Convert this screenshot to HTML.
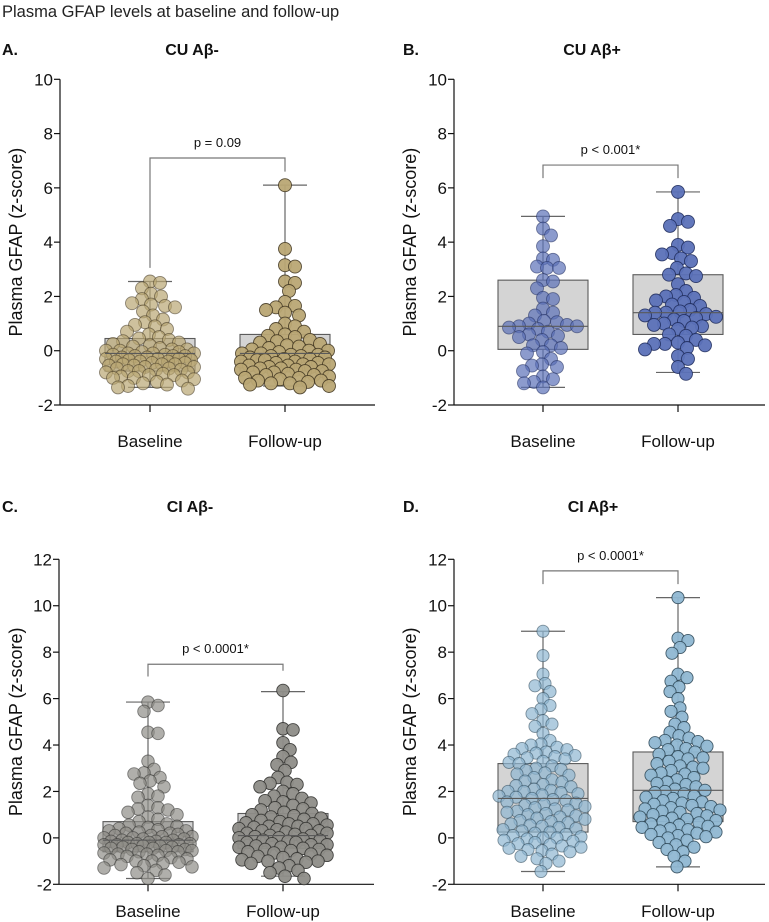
<!DOCTYPE html>
<html><head><meta charset="utf-8">
<style>
html,body{margin:0;padding:0;background:#fff;}
svg{display:block;font-family:"Liberation Sans",Arial,sans-serif;}
</style></head>
<body>
<svg id="chart" width="769" height="922" viewBox="0 0 769 922" xmlns="http://www.w3.org/2000/svg">
<text x="2" y="17" font-size="16.5" fill="#222">Plasma GFAP levels at baseline and follow-up</text>
</svg>
<script>
const categories = ["Baseline", "Follow-up"];
const panelTitles = ["CU Aβ-", "CU Aβ+", "CI Aβ-", "CI Aβ+"];
const panelLetters = ["A.", "B.", "C.", "D."];
const pLabels = ["p = 0.09", "p < 0.001*", "p < 0.0001*", "p < 0.0001*"];
const ticksTop = [-2, 0, 2, 4, 6, 8, 10];
const ticksBottom = [-2, 0, 2, 4, 6, 8, 10, 12];
// box stats: [whiskerLow, q1, median, q3, whiskerHigh]
const boxA = [[-1.35, -0.75, -0.1, 0.45, 2.55], [-1.3, -0.75, -0.1, 0.6, 6.1]];
const boxB = [[-1.35, 0.05, 0.9, 2.6, 4.95], [-0.8, 0.6, 1.4, 2.8, 5.85]];
const boxC = [[-1.75, -0.6, -0.1, 0.7, 5.85], [-1.65, -0.45, 0.1, 1.05, 6.3]];
const boxD = [[-1.45, 0.25, 1.7, 3.2, 8.9], [-1.25, 0.7, 2.05, 3.7, 10.35]];
// bracket: [barValue, leftLegEnd, rightLegEnd]
const bracketA = [7.1, 3.05, 6.6];
const bracketB = [6.84, 6.36, 6.36];
const bracketC = [7.48, 6.95, 7.2];
const bracketD = [11.5, 10.93, 10.93];
const valsABase = [2.55,2.5,2.3,2.1,2.0,1.9,1.75,1.7,1.65,1.6,1.45,1.3,1.15,1.05,0.95,0.9,0.8,0.7,0.6,0.5,0.45,0.4,0.35,0.3,0.25,0.2,0.15,0.1,0.05,0.05,0.0,0.0,-0.05,-0.05,-0.1,-0.1,-0.1,-0.15,-0.15,-0.2,-0.2,-0.2,-0.25,-0.25,-0.3,-0.3,-0.3,-0.35,-0.35,-0.4,-0.4,-0.4,-0.45,-0.45,-0.5,-0.5,-0.5,-0.55,-0.55,-0.6,-0.6,-0.65,-0.65,-0.7,-0.7,-0.75,-0.75,-0.8,-0.8,-0.85,-0.9,-0.9,-0.95,-1.0,-1.0,-1.05,-1.1,-1.15,-1.2,-1.25,-1.3,-1.35,-1.4];
const valsAFol = [6.1,3.75,3.15,3.1,2.55,2.5,2.2,1.8,1.65,1.6,1.5,1.4,1.3,1.0,0.9,0.8,0.7,0.6,0.55,0.5,0.4,0.35,0.3,0.25,0.2,0.15,0.1,0.05,0.0,0.0,-0.05,-0.1,-0.1,-0.15,-0.15,-0.2,-0.2,-0.25,-0.25,-0.3,-0.3,-0.35,-0.35,-0.4,-0.4,-0.45,-0.45,-0.5,-0.5,-0.55,-0.55,-0.6,-0.6,-0.65,-0.65,-0.7,-0.7,-0.75,-0.75,-0.8,-0.8,-0.85,-0.9,-0.9,-0.95,-1.0,-1.0,-1.05,-1.1,-1.1,-1.15,-1.2,-1.2,-1.25,-1.3,-1.35];
const valsBBase = [4.95,4.5,4.25,3.85,3.4,3.35,3.1,3.05,3.05,2.6,2.55,2.3,1.95,1.9,1.55,1.4,1.3,1.1,1.05,1.0,0.95,0.9,0.9,0.85,0.8,0.7,0.6,0.55,0.5,0.4,0.2,0.2,0.1,-0.05,-0.1,-0.3,-0.5,-0.55,-0.6,-0.75,-0.95,-1.05,-1.15,-1.2,-1.35];
const valsBFol = [5.85,4.85,4.75,4.6,3.9,3.8,3.6,3.55,3.4,3.3,3.05,2.85,2.8,2.75,2.45,2.2,2.05,2.0,1.95,1.85,1.8,1.7,1.65,1.5,1.45,1.4,1.4,1.35,1.3,1.25,1.2,1.15,1.1,1.0,0.95,0.9,0.85,0.8,0.6,0.55,0.4,0.3,0.25,0.25,0.2,0.1,0.05,-0.2,-0.3,-0.6,-0.85];
const valsCBase = [5.85,5.7,5.45,4.55,4.5,3.3,2.95,2.8,2.75,2.6,2.45,2.35,2.2,1.9,1.8,1.75,1.4,1.3,1.25,1.2,1.1,1.0,0.9,0.8,0.7,0.6,0.55,0.5,0.45,0.4,0.35,0.3,0.3,0.25,0.2,0.2,0.15,0.1,0.1,0.05,0.05,0.0,0.0,-0.05,-0.05,-0.1,-0.1,-0.15,-0.15,-0.2,-0.2,-0.2,-0.25,-0.25,-0.3,-0.3,-0.3,-0.35,-0.35,-0.4,-0.4,-0.45,-0.45,-0.5,-0.5,-0.55,-0.55,-0.6,-0.6,-0.65,-0.7,-0.7,-0.75,-0.8,-0.85,-0.9,-0.95,-1.0,-1.0,-1.05,-1.1,-1.15,-1.2,-1.25,-1.3,-1.4,-1.5,-1.6,-1.75];
const valsCFol = [6.35,4.7,4.65,4.1,3.8,3.5,3.25,3.15,2.9,2.6,2.4,2.35,2.3,2.2,2.0,1.9,1.8,1.7,1.6,1.55,1.5,1.4,1.3,1.25,1.2,1.1,1.05,1.0,0.95,0.9,0.85,0.8,0.75,0.7,0.65,0.6,0.6,0.55,0.5,0.5,0.45,0.4,0.4,0.35,0.3,0.3,0.25,0.2,0.2,0.15,0.1,0.1,0.05,0.0,0.0,-0.05,-0.1,-0.1,-0.15,-0.2,-0.2,-0.25,-0.3,-0.3,-0.35,-0.4,-0.4,-0.45,-0.5,-0.5,-0.55,-0.6,-0.65,-0.7,-0.75,-0.8,-0.85,-0.9,-0.95,-1.0,-1.0,-1.05,-1.1,-1.2,-1.3,-1.4,-1.5,-1.65,-1.75];
const valsDBase = [8.9,7.85,7.05,6.65,6.55,6.3,6.0,5.7,5.55,5.35,5.05,4.9,4.8,4.5,4.2,4.05,4.0,3.9,3.85,3.8,3.7,3.65,3.6,3.55,3.5,3.45,3.4,3.3,3.25,3.2,3.1,3.0,2.95,2.9,2.8,2.75,2.7,2.6,2.5,2.45,2.4,2.3,2.25,2.2,2.1,2.05,2.0,2.0,1.95,1.9,1.85,1.8,1.75,1.7,1.65,1.6,1.55,1.5,1.45,1.4,1.35,1.3,1.25,1.2,1.15,1.1,1.05,1.0,0.95,0.9,0.85,0.8,0.75,0.7,0.65,0.6,0.55,0.5,0.45,0.4,0.35,0.3,0.25,0.2,0.15,0.1,0.05,0.0,0.0,-0.05,-0.1,-0.15,-0.2,-0.25,-0.3,-0.35,-0.4,-0.45,-0.5,-0.55,-0.6,-0.7,-0.8,-0.9,-1.0,-1.1,-1.45];
const valsDFol = [10.35,8.6,8.5,8.2,7.95,7.05,6.9,6.75,6.5,6.3,6.0,5.6,5.45,5.2,4.9,4.75,4.55,4.4,4.3,4.2,4.15,4.1,4.0,3.95,3.85,3.8,3.7,3.6,3.5,3.45,3.4,3.3,3.2,3.1,3.05,3.0,2.9,2.8,2.75,2.7,2.6,2.5,2.4,2.35,2.3,2.2,2.1,2.05,2.0,1.95,1.9,1.8,1.75,1.7,1.6,1.55,1.5,1.45,1.4,1.35,1.3,1.25,1.2,1.15,1.1,1.05,1.0,0.95,0.9,0.85,0.8,0.75,0.7,0.65,0.6,0.55,0.5,0.45,0.4,0.35,0.3,0.25,0.2,0.15,0.1,0.05,0.0,-0.1,-0.2,-0.3,-0.4,-0.5,-0.6,-0.8,-1.0,-1.25];

const NS = "http://www.w3.org/2000/svg";
const svg = document.getElementById("chart");
function mk(tag, attrs, parent) {
  const e = document.createElementNS(NS, tag);
  for (const k in attrs) e.setAttribute(k, attrs[k]);
  (parent || svg).appendChild(e);
  return e;
}

const panels = [
  {ax:60, right:375, top:79.3, bot:405, ymax:10, ticks:ticksTop, xs:[150,285], box:boxA, br:bracketA, vals:[valsABase,valsAFol], fill:"#b9a674", stroke:"#3f3520", titleX:192, titleY:55, letterX:2, ytX:22, xlabY:447, r:6.5, key:"a"},
  {ax:454, right:765, top:79.3, bot:405, ymax:10, ticks:ticksTop, xs:[543,678], box:boxB, br:bracketB, vals:[valsBBase,valsBFol], fill:"#5b71b8", stroke:"#1f2c5c", titleX:592, titleY:55, letterX:403, ytX:416, xlabY:447, r:6.5, key:"b"},
  {ax:59, right:374, top:559.3, bot:884.3, ymax:12, ticks:ticksBottom, xs:[148,283], box:boxC, br:bracketC, vals:[valsCBase,valsCFol], fill:"#8e8d88", stroke:"#2e2e2c", titleX:190, titleY:512, letterX:2, ytX:22, xlabY:917, r:6.3, key:"c"},
  {ax:454, right:765, top:559.3, bot:884.3, ymax:12, ticks:ticksBottom, xs:[543,678], box:boxD, br:bracketD, vals:[valsDBase,valsDFol], fill:"#8fb7d2", stroke:"#2a4454", titleX:593, titleY:512, letterX:403, ytX:416, xlabY:917, r:6.1, key:"d"}
];

function swarm(vals, cx, yfn, r, maxW) {
  const placed = [];
  const md = r * 1.55;
  const out = [];
  vals.forEach(v => {
    const y = yfn(v);
    let chosen = null, bestDx = 0, bestMin = -1;
    for (let s = 0; s <= maxW && chosen === null; s += 1) {
      const cands = s === 0 ? [0] : [s, -s];
      for (const dx of cands) {
        let mind = Infinity;
        for (const p of placed) {
          const d = Math.hypot(p[0] - (cx + dx), p[1] - y);
          if (d < mind) mind = d;
        }
        if (mind >= md) { chosen = dx; break; }
        if (mind > bestMin) { bestMin = mind; bestDx = dx; }
      }
    }
    const dx = chosen === null ? bestDx : chosen;
    placed.push([cx + dx, y]);
    out.push([cx + dx, y]);
  });
  return out;
}

panels.forEach((P, pi) => {
  const g = mk("g", {});
  
  
  const yS = v => P.bot - (v + 2) / (P.ymax + 2) * (P.bot - P.top);

  const lt = mk("text", {x:P.letterX, y:P.titleY, "font-size":16, "font-weight":"bold", fill:"#111"}, g);
  lt.textContent = panelLetters[pi];
  
  
  const tt = mk("text", {x:P.titleX, y:P.titleY, "font-size":16, "font-weight":"bold", fill:"#111", "text-anchor":"middle"}, g);
  tt.textContent = panelTitles[pi];
  
  

  const yaxis = mk("line", {x1:P.ax, x2:P.ax, y1:P.top, y2:P.bot, stroke:"#111", "stroke-width":1.2}, g);
  
  
  P.ticks.forEach(t => {
    const y = yS(t);
    const tk = mk("line", {x1:P.ax-6, x2:P.ax, y1:y, y2:y, stroke:"#111", "stroke-width":1.2}, g);
    
    
    const tl = mk("text", {x:P.ax-7, y:y+6, "font-size":17, fill:"#111", "text-anchor":"end"}, g);
    tl.textContent = t;
    
    
  });
  const ymid = (P.top + P.bot) / 2;
  const yt = mk("text", {x:P.ytX, y:ymid, "font-size":18, fill:"#111", "text-anchor":"middle", transform:`rotate(-90 ${P.ytX} ${ymid})`}, g);
  yt.textContent = "Plasma GFAP (z-score)";
  
  

  const xaxis = mk("line", {x1:P.ax, x2:P.right, y1:P.bot, y2:P.bot, stroke:"#111", "stroke-width":1.2}, g);
  
  
  categories.forEach((c, ci) => {
    const x = P.xs[ci];
    const tk = mk("line", {x1:x, x2:x, y1:P.bot, y2:P.bot+7, stroke:"#111", "stroke-width":1.2}, g);
    
    
    const tl = mk("text", {x:x, y:P.xlabY, "font-size":17, fill:"#111", "text-anchor":"middle"}, g);
    tl.textContent = c;
    
    
  });

  categories.forEach((c, ci) => {
    const x = P.xs[ci];
    const b = P.box[ci];
    const wl = mk("line", {x1:x, x2:x, y1:yS(b[4]), y2:yS(b[0]), stroke:"#666", "stroke-width":1.2}, g);
    
    
    const rect = mk("rect", {x:x-45, y:yS(b[3]), width:90, height:yS(b[1])-yS(b[3]), fill:"#d4d4d4", stroke:"#5a5a5a", "stroke-width":1.1}, g);
    
    
    [b[4], b[0]].forEach(v => {
      const cap = mk("line", {x1:x-22, x2:x+22, y1:yS(v), y2:yS(v), stroke:"#666", "stroke-width":1.2}, g);
      
      
    });
    const pts = swarm(P.vals[ci], x, yS, P.r, 44);
    pts.forEach(p => {
      const cc = mk("circle", {cx:p[0].toFixed(1), cy:p[1].toFixed(1), r:P.r, fill:P.fill, "fill-opacity": ci===0?0.7:0.95, stroke:P.stroke, "stroke-opacity": ci===0?0.55:0.85, "stroke-width":0.9}, g);
      
      
    });
    const med = mk("line", {x1:x-45, x2:x+45, y1:yS(b[2]), y2:yS(b[2]), stroke:"#5a5a5a", "stroke-width":1.1}, g);
    
    
  });

  const yb = yS(P.br[0]);
  const br = mk("path", {d:`M${P.xs[0]},${yS(P.br[1])} V${yb} H${P.xs[1]} V${yS(P.br[2])}`, fill:"none", stroke:"#777", "stroke-width":1.2}, g);
  
  
  const pl = mk("text", {x:(P.xs[0]+P.xs[1])/2, y:yb-11, "font-size":13, fill:"#111", "text-anchor":"middle"}, g);
  pl.textContent = pLabels[pi];
  
  
});
</script>
</body></html>
